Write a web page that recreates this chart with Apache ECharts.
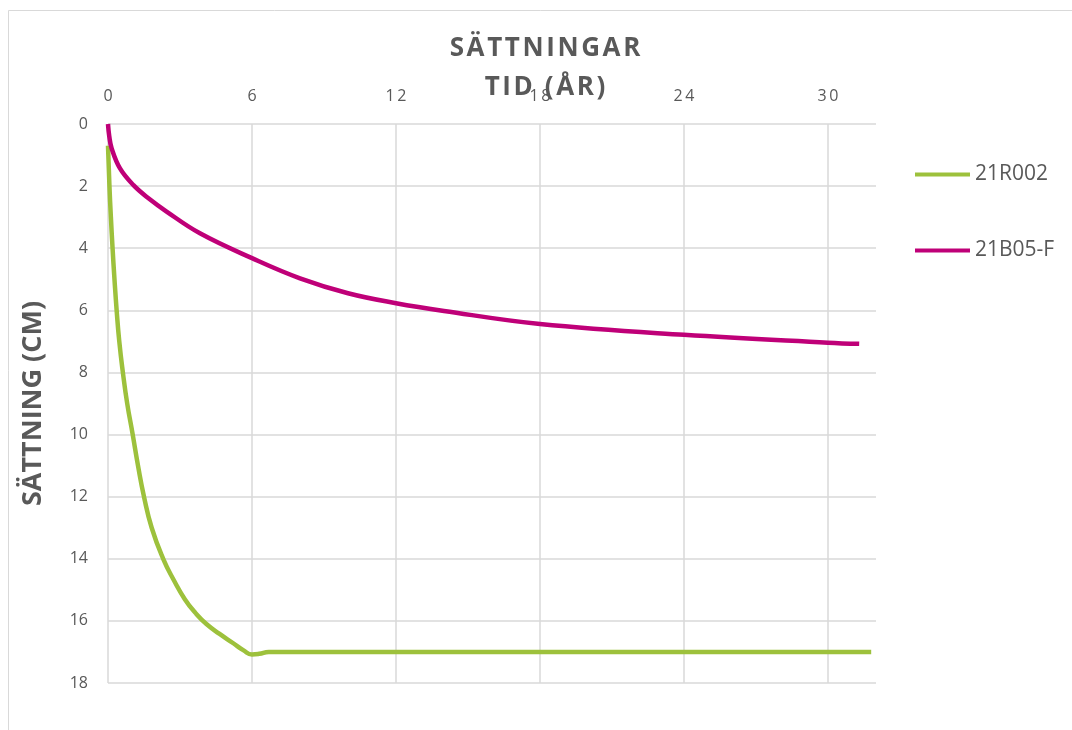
<!DOCTYPE html>
<html>
<head>
<meta charset="utf-8">
<title>Sättningar</title>
<script src="https://cdn.jsdelivr.net/npm/echarts@6/dist/echarts.min.js"></script>
<style>
  html, body { margin: 0; padding: 0; background: #ffffff; }
  #chart { width: 1072px; height: 730px; }
</style>
</head>
<body>
<div id="chart"></div>
<script>
// Settlement over time (years) for two measuring points
const seriesNames = ['21R002', '21B05-F'];

const yearsR002 = [0, 0.06, 0.12, 0.19, 0.27, 0.36, 0.47, 0.62, 0.8, 1.03, 1.25, 1.5, 1.82, 2.3, 2.75, 3.2, 3.65, 4.1, 4.65, 5.22, 5.65, 6.0, 6.3, 6.7, 12, 20, 31.8];
const cmR002    = [0.7, 2, 3, 4, 5, 6, 7, 8, 9, 10, 11, 12, 13, 14, 14.7, 15.3, 15.75, 16.1, 16.42, 16.72, 16.95, 17.08, 17.06, 17.0, 17.0, 17.0, 17.0];

const yearsB05F = [0, 0.05, 0.15, 0.5, 1.05, 1.7, 2.44, 3.83, 6, 8, 10, 12, 14, 18, 24, 30, 31.3];
const cmB05F    = [0, 0.38, 0.78, 1.43, 1.96, 2.4, 2.82, 3.52, 4.32, 4.97, 5.45, 5.77, 6.02, 6.44, 6.79, 7.04, 7.08];

const xTicks = { min: 0, max: 32, step: 6 };
const yTicks = { min: 0, max: 18, step: 2 };

const colors = ['#9dc13c', '#bf0078'];
const textGray = '#595959';
const gridGray = '#d9d9d9';
const fontFamily = '"Open Sans", "DejaVu Sans", sans-serif';

const spaced = (s, sep) => String(s).split('').join(sep || '\u2009');
const pairs = (xs, ys) => xs.map((x, i) => [x, ys[i]]);

const chart = echarts.init(document.getElementById('chart'), null, { renderer: 'canvas' });

chart.setOption({
  backgroundColor: '#ffffff',
  animation: false,
  color: colors,
  textStyle: { fontFamily: fontFamily, color: textGray },
  graphic: [
    {
      type: 'rect',
      shape: { x: 8.5, y: 10.5, width: 1070, height: 730 },
      style: { fill: 'none', stroke: gridGray, lineWidth: 1 },
      silent: true
    },
    {
      type: 'text',
      x: 545, y: 49,
      style: {
        text: spaced('SÄTTNINGAR', '\u200A'),
        fill: textGray,
        font: 'bold 26px ' + fontFamily,
        align: 'center',
        verticalAlign: 'middle'
      },
      z: 10
    }
  ],
  grid: { left: 108, top: 124, width: 768, height: 559, containLabel: false },
  legend: {
    orient: 'vertical',
    left: 910,
    top: 159,
    icon: 'rect',
    itemWidth: 55,
    itemHeight: 4,
    itemGap: 55,
    textStyle: { fontSize: 21, color: textGray, fontFamily: fontFamily },
    data: seriesNames
  },
  xAxis: {
    type: 'value',
    position: 'top',
    min: xTicks.min,
    max: xTicks.max,
    interval: xTicks.step,
    name: spaced('TID (ÅR)', '\u200A'),
    nameLocation: 'middle',
    nameGap: 23,
    nameMoveOverlap: false,
    nameTextStyle: {
      fontSize: 26, fontWeight: 'bold', color: textGray,
      fontFamily: fontFamily, padding: [0, 0, 0, 106]
    },
    axisLine: { show: false },
    axisTick: { show: false },
    axisLabel: {
      margin: 20, fontSize: 16, color: textGray,
      showMaxLabel: false,
      formatter: v => spaced(v)
    },
    splitLine: { show: true, showMaxLine: false, lineStyle: { color: gridGray, width: 1.5 } }
  },
  yAxis: {
    type: 'value',
    inverse: true,
    min: yTicks.min,
    max: yTicks.max,
    interval: yTicks.step,
    name: 'SÄTTNING (CM)',
    nameLocation: 'middle',
    nameGap: 61,
    nameRotate: 90,
    nameMoveOverlap: false,
    nameTextStyle: { fontSize: 27, fontWeight: 'bold', color: textGray, fontFamily: fontFamily },
    axisLine: { show: false },
    axisTick: { show: false },
    axisLabel: { margin: 20, fontSize: 16, color: textGray },
    splitLine: { show: true, lineStyle: { color: gridGray, width: 1.5 } }
  },
  series: [
    {
      name: seriesNames[0],
      type: 'line',
      data: pairs(yearsR002, cmR002),
      smooth: 0.5,
      symbol: 'none',
      lineStyle: { width: 4.5, color: colors[0] },
      itemStyle: { color: colors[0] }
    },
    {
      name: seriesNames[1],
      type: 'line',
      data: pairs(yearsB05F, cmB05F),
      smooth: 0.4,
      symbol: 'none',
      lineStyle: { width: 4.5, color: colors[1] },
      itemStyle: { color: colors[1] }
    }
  ]
});
</script>
</body>
</html>
